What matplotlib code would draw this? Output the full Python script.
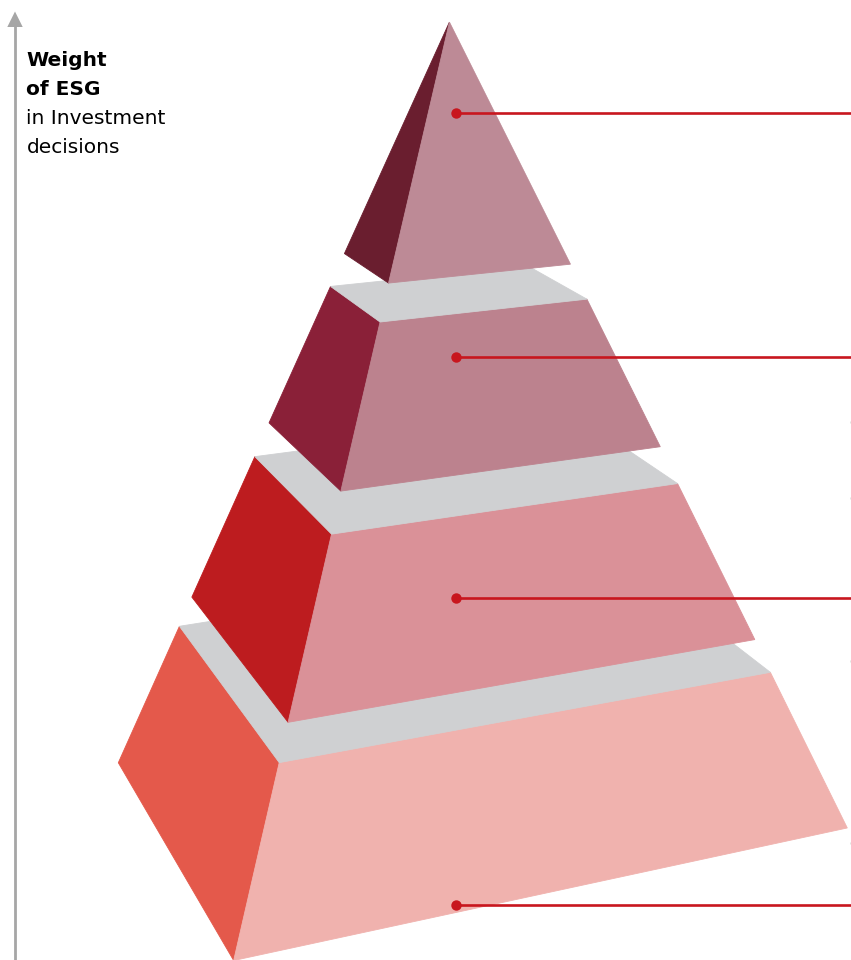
import numpy as np
import matplotlib
matplotlib.use('Agg')
import matplotlib.pyplot as plt
from matplotlib.patches import Polygon

# -----------------------------------------
# pyramid tiers, bottom to top
# each tier is a slice of one square pyramid (apex at height 1),
# tier_bottom / tier_top = slice levels, tier_base_z = where the slice is placed
tier_bottom = [0.0, 0.02731, 0.07534, 0.17523]
tier_top = [0.02331, 0.06709, 0.15329, 1.0]
tier_base_z = [0.0, 0.02953, 0.08227, 0.18895]

side_colors = ['#e4594b', '#bd1c1f', '#8a2038', '#6a1e2f']
front_colors = ['#f0b2ae', '#da9198', '#bc828e', '#bd8a96']
ledge_color = '#cfd0d2'

axis_title_bold = ['Weight', 'of ESG']
axis_title_normal = ['in Investment', 'decisions']

# -----------------------------------------
# perspective camera (world -> figure pixels)
cam = np.array([[350.5187, 268.9713, 3912.611, 472.2558],
                [9.593856, -41.25163, -568.1799, 794.4085],
                [-0.02894179, 0.1299942, 8.755979, 1.0]])

# square base corners: left, front, right, back
corners = np.array([[-1, 0], [0, -1], [1, 0], [0, 1]])


def project(pts):
    ph = np.c_[pts, np.ones(len(pts))] @ cam.T
    return ph[:, :2] / ph[:, 2:3]


fig = plt.figure(figsize=(8.51, 9.6), dpi=100)
ax = fig.add_axes([0, 0, 1, 1])
ax.set_xlim(0, 851)
ax.set_ylim(960, 0)
ax.axis('off')

for i in range(len(tier_bottom)):
    t0, t1, zb = tier_bottom[i], tier_top[i], tier_base_z[i]
    bot = project(np.c_[corners*(1-t0), np.full(4, zb)])
    top = project(np.c_[corners*(1-t1), np.full(4, zb+t1-t0)])
    # left face, front face
    ax.add_patch(Polygon([bot[0], bot[1], top[1], top[0]], closed=True,
                         fc=side_colors[i], ec=side_colors[i], lw=0.6))
    ax.add_patch(Polygon([bot[1], bot[2], top[2], top[1]], closed=True,
                         fc=front_colors[i], ec=front_colors[i], lw=0.6))
    # grey ledge on top of the lower tiers
    if t1 < 1:
        ax.add_patch(Polygon(top, closed=True, fc=ledge_color, ec=ledge_color, lw=0.6))

# connector lines to the (cropped) tier labels
red = '#c8161e'
for y in [905, 598, 357, 113]:
    ax.plot([456, 852], [y, y], color=red, lw=1.9, solid_capstyle='butt', zorder=5)
    ax.plot(456, y, 'o', color=red, ms=7.5, mec='none', zorder=6)

# bits of cut-off label text at the right edge
for y in [422, 498, 661, 843]:
    ax.plot(850.5, y, 's', color='#c7cfc7', ms=1.6, mec='none', zorder=6)

# vertical axis arrow
grey = '#a6a6a6'
ax.plot([15, 15], [962, 25], color=grey, lw=2.0, solid_capstyle='butt')
ax.add_patch(Polygon([[7.3, 27], [22.7, 27], [15, 11.5]], closed=True, fc=grey, ec='none'))

y0 = 66
for k, s in enumerate(axis_title_bold + axis_title_normal):
    ax.text(26.5, y0 + 29*k, s, fontsize=14.5, fontweight='bold' if k < 2 else 'normal',
            color='black', va='baseline', ha='left')

plt.savefig('out.png', dpi=100)
